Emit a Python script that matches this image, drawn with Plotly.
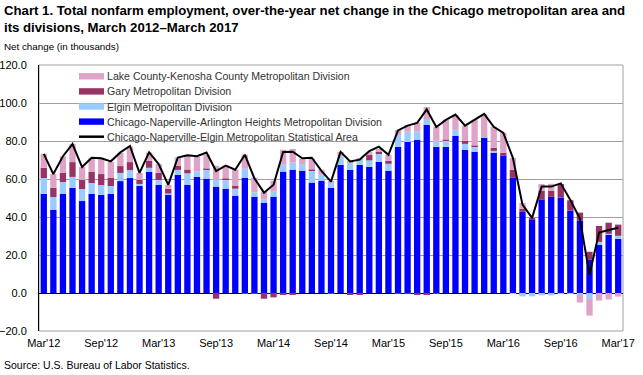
import plotly.graph_objects as go
import pandas as pd

# ---------------- data ----------------
months = [d.strftime("%b'%y") for d in pd.date_range("2012-03-01", "2017-03-01", freq="MS")]
tick_labels = months[::6]

chicago = [52.2, 43.8, 52.1, 55.3, 48.4, 52.1, 51.6, 52.1, 58.9, 60.5,
           56.3, 63.8, 56.9, 51.7, 62.2, 57.0, 61.2, 60.2, 56.0, 54.9,
           51.2, 60.7, 50.7, 47.5, 50.7, 63.9, 64.9, 64.4, 58.1, 59.1,
           55.3, 67.4, 64.8, 67.4, 66.4, 69.0, 64.3, 76.9, 79.5, 80.6,
           88.5, 76.9, 76.9, 82.7, 75.4, 74.3, 81.7, 73.8, 72.2, 60.6,
           42.7, 38.5, 49.0, 50.6, 50.2, 43.4, 38.1, 17.5, 25.3, 30.6,
           28.5]
elgin = [8.3, 6.7, 6.3, 5.8, 6.3, 5.8, 5.2, 4.2, 4.3, 4.2,
         1.1, 2.1, 2.6, 0.7, 2.6, 6.0, 2.7, 4.7, 3.6, 4.7,
         3.7, 4.7, 2.3, 1.6, 2.6, 3.6, 3.7, 3.1, 6.3, 3.2,
         2.7, 4.5, 3.6, 2.6, 3.4, 4.2, 3.7, 6.2, 5.4, 4.3,
         2.6, 3.2, 3.2, 3.2, 3.1, 2.6, 0.5, 1.0, 0.0, -0.5,
         -1.8, -1.8, -1.2, -1.2, -0.5, -0.3, -1.0, -3.2, 1.6, 0.6,
         1.6]
gary = [5.4, 4.9, 4.8, 7.8, 4.8, 5.8, 5.8, 4.4, 3.6, 4.2,
        2.1, 3.6, 3.7, 2.4, 2.1, 2.0, 0.0, 0.5, -3.0, 0.6,
        1.6, -0.5, -0.5, -3.0, -2.3, -1.0, -1.0, 0.0, 0.5, 0.0,
        -0.5, 0.0, -1.0, -1.0, 2.8, 1.0, 1.6, -0.5, -0.5, -1.0,
        -1.0, -0.5, 0.5, 0.0, 1.6, 0.6, 0.0, 1.7, 1.6, 4.2,
        1.6, 1.0, 4.8, 3.3, 7.2, 5.4, 4.2, 4.2, 8.4, 5.8,
        5.9]
lake = [7.4, 7.2, 8.7, 9.5, 6.8, 7.4, 8.5, 8.2, 6.9, 8.1,
        3.7, 4.4, 4.7, 2.1, 4.4, 7.8, 7.7, 7.4, 7.4, 6.8,
        8.4, 7.4, 7.7, 4.2, 5.8, 7.9, 7.2, 3.2, 5.8, 2.6,
        0.8, 2.3, 1.2, 0.7, 1.7, 1.6, 3.1, 2.8, 3.5, 4.8,
        6.8, 7.4, 10.6, 7.8, 8.0, 13.7, 11.8, 11.0, 10.5, 6.3,
        3.1, 0.0, 3.6, 3.6, 0.0, 0.0, -4.0, -8.7, -4.0, -3.4,
        -1.9]
msa = [73.2, 62.6, 72.0, 78.4, 66.3, 71.2, 70.9, 69.3, 74.0, 77.4,
       63.2, 74.0, 67.9, 56.9, 71.3, 72.5, 72.0, 73.9, 64.2, 67.0,
       64.9, 72.8, 60.3, 52.8, 57.0, 74.2, 74.4, 70.9, 71.2, 64.3,
       58.6, 74.3, 69.2, 70.2, 74.7, 77.0, 72.7, 85.6, 88.1, 89.5,
       96.6, 87.4, 91.1, 93.9, 88.1, 91.3, 94.3, 87.5, 84.3, 71.1,
       46.5, 39.5, 56.0, 56.0, 57.7, 49.0, 39.0, 9.6, 31.8, 33.2,
       34.3]

names = [
    "Lake County-Kenosha County Metropolitan Division",
    "Gary Metropolitan Division",
    "Elgin Metropolitan Division",
    "Chicago-Naperville-Arlington Heights Metropolitan Division",
    "Chicago-Naperville-Elgin Metropolitan Statistical Area",
]

C_CHI = "#0000FF"
C_ELG = "#99CCFF"
C_GARY = "#993366"
C_LAKE = "#DFA3C7"

TITLE = ("Chart 1. Total nonfarm employment, over-the-year net change in the Chicago metropolitan area and"
         "<br>its divisions, March 2012\u2013March 2017")

W, H = 643, 375
L, R, T, B = 39, 623, 65, 331
SANS = "Liberation Sans, Arial, sans-serif"


def px(x):
    return (x - L) / (R - L)


def py(y):
    return (B - y) / (B - T)


fig = go.Figure()
fig.add_trace(go.Bar(x=months, y=chicago, name=names[3], marker_color=C_CHI, marker_line_width=0))
fig.add_trace(go.Bar(x=months, y=elgin, name=names[2], marker_color=C_ELG, marker_line_width=0))
fig.add_trace(go.Bar(x=months, y=gary, name=names[1], marker_color=C_GARY, marker_line_width=0))
fig.add_trace(go.Bar(x=months, y=lake, name=names[0], marker_color=C_LAKE, marker_line_width=0))
fig.add_trace(go.Scatter(x=months, y=msa, name=names[4], mode="lines",
                         line=dict(color="black", width=2)))

shapes = []
annotations = []

# plot frame (gray)
shapes.append(dict(type="rect", xref="paper", yref="paper", x0=0, x1=1, y0=0, y1=1,
                   line=dict(color="#A0A0A0", width=1), layer="below"))

# legend drawn as layout decoration
leg_colors = [C_LAKE, C_GARY, C_ELG, C_CHI, "black"]
for i, (nm, col) in enumerate(zip(names, leg_colors)):
    yc = 76.3 + 15.1 * i
    if i < 4:
        shapes.append(dict(type="rect", xref="paper", yref="paper",
                           x0=px(79), x1=px(104), y0=py(yc + 3.2), y1=py(yc - 3.2),
                           fillcolor=col, line=dict(width=0)))
    else:
        shapes.append(dict(type="line", xref="paper", yref="paper",
                           x0=px(79), x1=px(104), y0=py(yc), y1=py(yc),
                           line=dict(color=col, width=2.5)))
    annotations.append(dict(text=nm, xref="paper", yref="paper", x=px(105), y=py(yc),
                            xanchor="left", yanchor="middle", showarrow=False,
                            font=dict(family=SANS, size=10.6, color="#333333")))

annotations.append(dict(text="<b>" + TITLE + "</b>", xref="paper", yref="paper",
                        x=px(2), y=py(1), xanchor="left", yanchor="top", align="left",
                        showarrow=False,
                        font=dict(family=SANS, size=13.2, color="black")))
annotations.append(dict(text="Net change (in thousands)", xref="paper", yref="paper",
                        x=px(2), y=py(47), xanchor="left", yanchor="middle", showarrow=False,
                        font=dict(family=SANS, size=9.8, color="black")))
annotations.append(dict(text="Source: U.S. Bureau of Labor Statistics.", xref="paper", yref="paper",
                        x=px(2), y=py(365), xanchor="left", yanchor="middle", showarrow=False,
                        font=dict(family=SANS, size=10.5, color="black")))

fig.update_layout(
    width=W, height=H,
    margin=dict(l=L, r=W - R, t=T, b=H - B, pad=0, autoexpand=False),
    paper_bgcolor="white", plot_bgcolor="white",
    barmode="relative", bargap=0.34,
    showlegend=False,
    shapes=shapes, annotations=annotations,
    font=dict(family=SANS, size=11, color="black"),
    xaxis=dict(type="category", range=[-0.5, len(months) - 0.5], automargin=False,
               tickvals=tick_labels, ticktext=tick_labels, tickangle=0,
               showgrid=False, showline=False, zeroline=False, ticks="",
               ticklabelstandoff=4,
               tickfont=dict(family=SANS, size=11, color="black")),
    yaxis=dict(range=[-20, 120], dtick=20, tick0=0, tickformat=".1f", automargin=False,
               showgrid=True, gridcolor="#A0A0A0", gridwidth=1,
               zeroline=True, zerolinecolor="black", zerolinewidth=1,
               showline=True, linecolor="black", linewidth=1, ticks="",
               ticklabelstandoff=9,
               tickfont=dict(family=SANS, size=11, color="black")),
)

fig.write_html("out.html",
               config={"displayModeBar": False},
               post_script="document.body.style.margin='0px';document.body.style.overflow='hidden';")
